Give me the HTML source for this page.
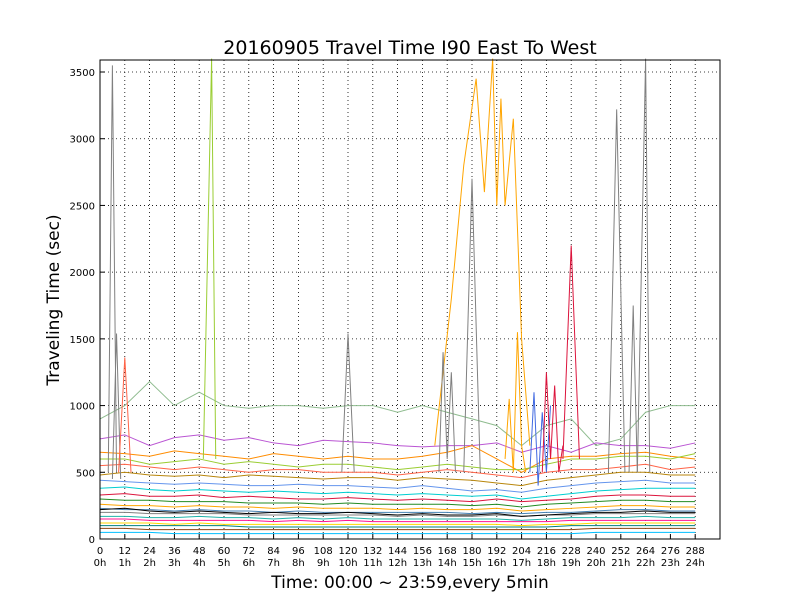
<!DOCTYPE html>
<html><head><meta charset="utf-8"><style>
body{margin:0;background:#fff;font-family:"DejaVu Sans",sans-serif}
</style></head><body>
<svg id="chart" width="800" height="600" xmlns="http://www.w3.org/2000/svg" font-family="DejaVu Sans, sans-serif">
<rect width="800" height="600" fill="#fff"/>
<text x="410" y="54" text-anchor="middle" font-size="19">20160905 Travel Time I90 East To West</text>
<g id="grid"></g><g id="series"></g><g id="axes"></g>
<text x="410" y="588" text-anchor="middle" font-size="17">Time: 00:00 ~ 23:59,every 5min</text>
<text transform="translate(59,300) rotate(-90)" text-anchor="middle" font-size="17">Traveling Time (sec)</text>
</svg>
<script>
const xTicks=[0,12,24,36,48,60,72,84,96,108,120,132,144,156,168,180,192,204,216,228,240,252,264,276,288];
const xHourLabels=["0h","1h","2h","3h","4h","5h","6h","7h","8h","9h","10h","11h","12h","13h","14h","15h","16h","17h","18h","19h","20h","21h","22h","23h","24h"];
const yTicks=[0,500,1000,1500,2000,2500,3000,3500];
const sampleX=[0,12,24,36,48,60,72,84,96,108,120,132,144,156,168,180,192,204,216,228,240,252,264,276,288];
const baseColors=["#8fbc8f","#ba55d3","#ff8c00","#9acd32","#ff6347","#b8860b","#6495ed","#00ced1","#dc143c","#228b22","#ffa500","#4682b4","#808080","#000000","#20b2aa","#ff1493","#ffd700","#008080","#8b4513","#00bfff"];
const baseValues=[
[900,1000,1180,1000,1100,1000,980,1000,1000,980,1000,1000,950,1000,950,900,850,700,850,900,700,750,950,1000,1000],
[750,780,700,760,780,740,760,720,700,740,730,720,700,690,700,700,720,650,700,650,720,700,700,680,720],
[650,640,620,660,640,620,600,640,620,600,620,600,600,620,650,700,600,500,600,620,620,640,650,620,600],
[600,600,560,580,600,560,580,560,540,560,560,540,520,540,560,540,520,520,560,600,600,620,620,600,640],
[550,560,540,520,540,520,500,520,520,500,500,500,480,500,520,500,480,460,500,520,520,540,560,520,540],
[480,500,480,470,480,460,480,470,460,450,460,460,440,460,450,440,420,400,440,460,480,500,500,480,480],
[440,430,420,410,420,410,400,400,410,400,400,390,380,400,380,360,370,350,380,400,420,430,440,420,420],
[380,390,370,360,370,360,350,360,350,340,350,340,330,340,330,320,330,300,320,340,360,370,380,380,380],
[330,340,320,320,330,310,320,310,300,300,310,300,290,300,290,280,300,280,290,300,320,330,330,320,320],
[300,290,290,280,280,280,270,270,270,260,270,260,260,260,260,250,260,240,260,270,280,290,290,280,280],
[260,250,250,240,250,240,240,230,240,230,230,230,220,230,220,220,230,210,220,230,240,250,250,240,240],
[230,220,220,210,220,210,210,200,210,200,200,200,200,200,200,190,200,190,200,200,210,220,220,210,210],
[200,200,190,190,190,190,180,180,180,180,180,180,170,180,170,170,180,170,180,180,190,190,190,190,190],
[220,230,210,200,210,200,190,200,190,190,200,190,180,190,180,180,190,170,180,190,200,200,210,200,200],
[170,170,160,160,170,160,160,150,160,150,160,150,150,150,150,150,150,140,150,160,160,160,170,160,160],
[150,150,140,140,140,140,140,130,140,130,140,130,130,130,130,130,130,130,130,140,140,140,140,140,140],
[120,120,120,110,120,110,110,110,110,110,110,110,110,110,110,110,110,100,110,110,120,120,120,120,120],
[100,100,100,100,100,100,90,90,90,90,90,90,90,90,90,90,90,90,90,100,100,100,100,100,100],
[80,80,70,70,70,70,70,70,70,70,70,70,70,70,70,70,70,70,70,70,80,80,80,80,80],
[50,50,50,40,40,40,40,40,40,40,40,40,40,40,40,40,40,40,40,40,50,50,50,50,50]];
const spikeColors=["#808080","#808080","#9acd32","#808080","#ffa500","#808080","#dc143c","#808080","#808080","#808080","#ff6347","#808080","#ffa500","#4169e1","#dc143c"];
const spikeXs=[[4,6,8],[6,8,10],[50,54,56],[117,120,123],[162,170,176,182,186,190,192,194,196,200,204,208],[176,180,184],[224,228,232],[246,250,254],[256,258,260],[260,264,266],[9,12,15],[164,166,168,170,172],[196,198,200,202,204,206],[208,210,212,214,216,218],[214,216,218,220,222,224]];
const spikeYs=[[500,3550,500],[450,1540,450],[600,3600,600],[500,1540,500],[700,1800,2800,3450,2600,3600,2500,3300,2500,3150,1500,700],[500,2700,500],[600,2200,600],[500,3220,500],[500,1750,500],[500,3600,500],[500,1360,500],[500,1400,600,1250,500],[600,1050,500,1550,700,500],[500,1100,400,950,500,1000],[500,1250,600,1150,500,700]];
const L=100,R=720,T=60,B=539,XMAX=300,YMAX=3590;
const sx=v=>L+v/XMAX*(R-L), sy=v=>B-v/YMAX*(B-T);
const NS="http://www.w3.org/2000/svg";
function mk(tag,attrs,parent){const e=document.createElementNS(NS,tag);for(const k in attrs)e.setAttribute(k,attrs[k]);parent.appendChild(e);return e;}
const grid=document.getElementById('grid'),ser=document.getElementById('series'),ax=document.getElementById('axes');
xTicks.forEach((t,i)=>{
 const g=mk('line',{x1:sx(t),x2:sx(t),y1:T,y2:B,stroke:'#000','stroke-dasharray':'1,3','stroke-width':0.8},grid);
 
 
 const a=mk('text',{x:sx(t),y:B+15,'text-anchor':'middle','font-size':10},ax);a.textContent=t;
 
 
 const b=mk('text',{x:sx(t),y:B+27,'text-anchor':'middle','font-size':10},ax);b.textContent=xHourLabels[i];
 
 
 mk('line',{x1:sx(t),x2:sx(t),y1:B,y2:B-5,stroke:'#000'},ax);
});
yTicks.forEach(t=>{
 const g=mk('line',{x1:L,x2:R,y1:sy(t),y2:sy(t),stroke:'#000','stroke-dasharray':'1,3','stroke-width':0.8},grid);
 
 
 const a=mk('text',{x:L-5,y:sy(t)+4,'text-anchor':'end','font-size':10},ax);a.textContent=t;
 
 
 mk('line',{x1:L,x2:L+5,y1:sy(t),y2:sy(t),stroke:'#000'},ax);
});
baseValues.forEach((vals,i)=>{
 const p=mk('polyline',{points:vals.map((v,j)=>sx(sampleX[j])+','+sy(v)).join(' '),fill:'none',stroke:baseColors[i],'stroke-width':1},ser);
 
 
});
spikeXs.forEach((xs,i)=>{
 const p=mk('polyline',{points:xs.map((x,j)=>sx(x)+','+sy(spikeYs[i][j])).join(' '),fill:'none',stroke:spikeColors[i],'stroke-width':1},ser);
 
 
});
const fr=mk('rect',{x:L,y:T,width:R-L,height:B-T,fill:'none',stroke:'#000','stroke-width':1},ax);


</script>
</body></html>
